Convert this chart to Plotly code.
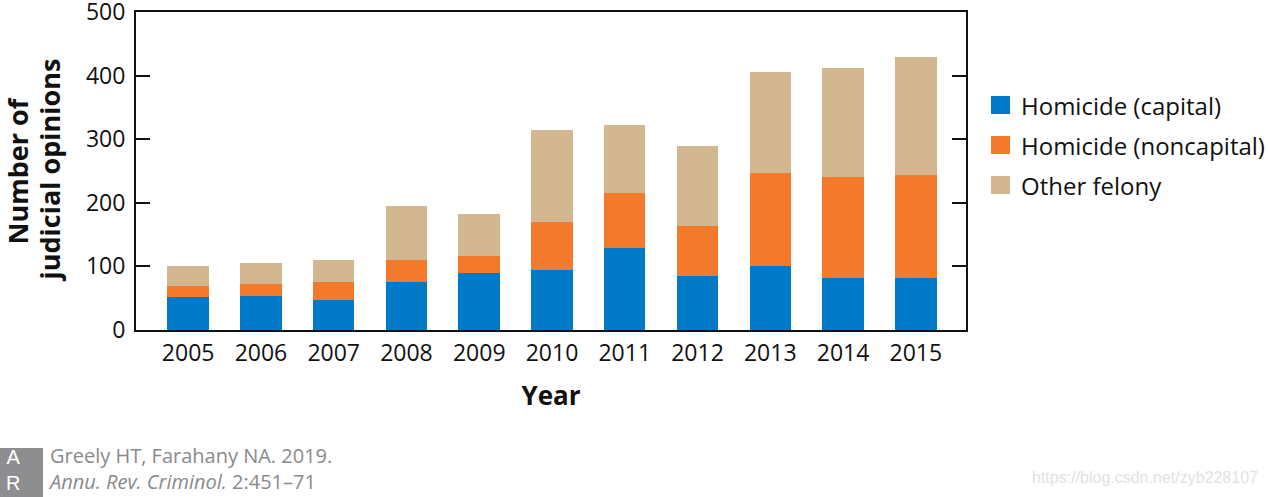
import plotly.graph_objects as go

years = ["2005", "2006", "2007", "2008", "2009", "2010", "2011", "2012", "2013", "2014", "2015"]
capital = [52, 54, 47, 75, 89, 94, 129, 85, 100, 81, 82]
noncapital = [17, 19, 28, 35, 27, 76, 86, 79, 147, 159, 161]
other = [31, 32, 35, 85, 66, 144, 107, 126, 158, 172, 187]

series_names = ["Homicide (capital)", "Homicide (noncapital)", "Other felony"]
series_colors = ["#0079C6", "#F47A2B", "#D3B791"]
y_ticks = [0, 100, 200, 300, 400, 500]

FONT = "Open Sans"
W, H = 1268, 497
ML, MR, MT, MB = 136, 302, 12, 167
PW, PH = W - ML - MR, H - MT - MB


def px2x(px):
    return (px - ML) / PW


def px2y(py):
    return (H - MB - py) / PH


fig = go.Figure()
for name, vals, col in zip(series_names, [capital, noncapital, other], series_colors):
    fig.add_trace(go.Bar(x=years, y=vals, name=name, marker=dict(color=col, line=dict(width=0)),
                         width=0.57, showlegend=False))

fig.update_layout(
    width=W, height=H,
    margin=dict(l=ML, r=MR, t=MT, b=MB, pad=0, autoexpand=False),
    barmode="stack",
    plot_bgcolor="white", paper_bgcolor="white",
    font=dict(family=FONT, color="#111111"),
    xaxis=dict(
        type="category", range=[-0.717, 10.69], automargin=False,
        showline=True, linecolor="#111111", linewidth=2, mirror=True,
        ticks="", showgrid=False, tickfont=dict(size=23, family=FONT, color="#111111"),
        ticklabelstandoff=1,
        title=dict(text="<b>Year</b>", font=dict(size=26, family=FONT, color="#111111"), standoff=20),
    ),
    yaxis=dict(
        range=[0, 500], tickvals=y_ticks, automargin=False,
        showline=True, linecolor="#111111", linewidth=2, mirror="ticks",
        ticks="inside", ticklen=14, tickwidth=2, tickcolor="#111111",
        showgrid=False, zeroline=False,
        tickfont=dict(size=23, family=FONT, color="#111111"),
        ticklabelstandoff=4, ticklabeloverflow="allow",
    ),
)

# y-axis title (two lines, rotated)
fig.add_annotation(text="<b>Number of</b>", x=px2x(16.5), y=px2y(171), xref="paper", yref="paper",
                   textangle=-90, showarrow=False, xanchor="center", yanchor="middle",
                   font=dict(size=27, family=FONT, color="#111111"))
fig.add_annotation(text="<b>judicial opinions</b>", x=px2x(48.5), y=px2y(170), xref="paper", yref="paper",
                   textangle=-90, showarrow=False, xanchor="center", yanchor="middle",
                   font=dict(size=27, family=FONT, color="#111111"))

# legend
legend_y = [105, 145, 185]
for name, col, cy in zip(series_names, series_colors, legend_y):
    fig.add_shape(type="rect", xref="paper", yref="paper",
                  x0=px2x(991), x1=px2x(1010), y0=px2y(cy - 9), y1=px2y(cy + 9),
                  fillcolor=col, line=dict(width=0))
    fig.add_annotation(text=name, x=px2x(1019), y=px2y(cy), xref="paper", yref="paper",
                       showarrow=False, xanchor="left", yanchor="middle",
                       font=dict(size=24, family=FONT, color="#111111"))

# footer logo
fig.add_shape(type="rect", xref="paper", yref="paper",
              x0=px2x(0), x1=px2x(43), y0=px2y(448), y1=px2y(497),
              fillcolor="#8E8E90", line=dict(width=0))
fig.add_annotation(text="A<br>R", x=px2x(14), y=px2y(470), xref="paper", yref="paper", showarrow=False,
                   xanchor="center", yanchor="middle", align="center",
                   font=dict(size=20, family="Liberation Sans", color="white"))

fig.add_annotation(text="Greely HT, Farahany NA. 2019.<br><i>Annu. Rev. Criminol.</i> 2:451–71",
                   x=px2x(46), y=px2y(468), xref="paper", yref="paper",
                   showarrow=False, xanchor="left", yanchor="middle", align="left",
                   font=dict(size=20, family=FONT, color="#8A8A8C"))

# watermark
fig.add_annotation(text="https://blog.csdn.net/zyb228107", x=px2x(1260), y=px2y(478), xref="paper", yref="paper",
                   showarrow=False, xanchor="right", yanchor="middle",
                   font=dict(size=16, family="Liberation Sans", color="#E2E2E2"))

fig.write_html("out.html", config={"displayModeBar": False},
               post_script="document.body.style.margin='0px';")
